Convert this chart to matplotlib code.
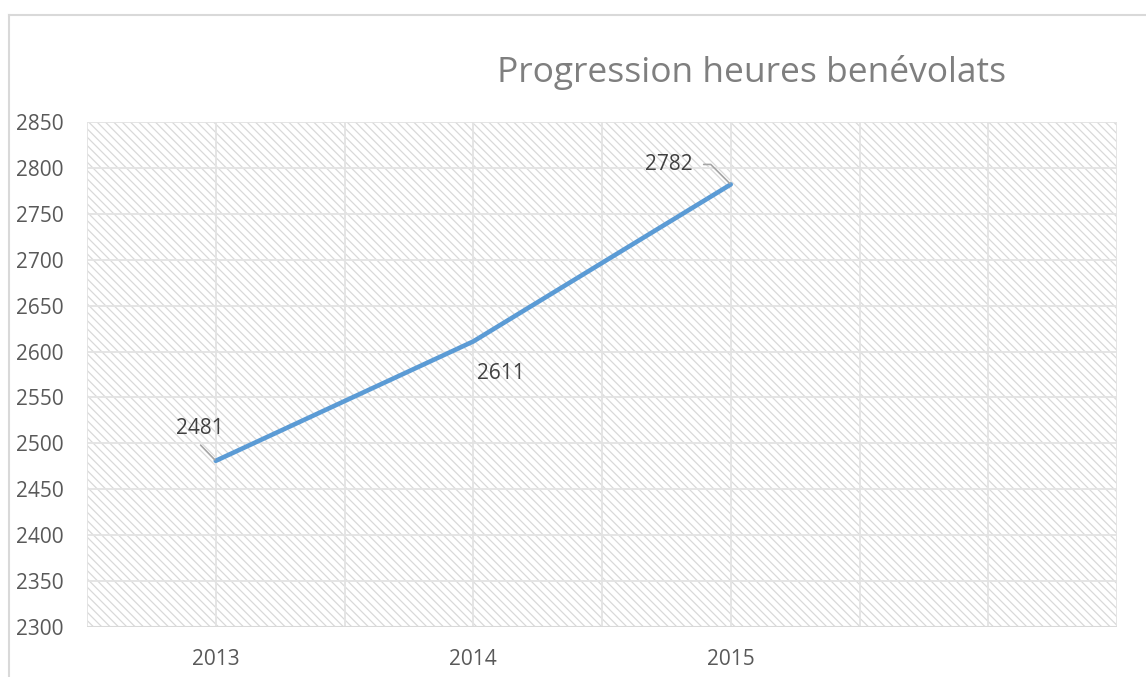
import numpy as np
import matplotlib.pyplot as plt
from matplotlib.patches import Rectangle
from matplotlib.lines import Line2D

years = ['2013', '2014', '2015']
hours = [2481, 2611, 2782]
y_ticks = list(range(2300, 2851, 50))

# label offsets in pixels relative to each point (dx, dy)
label_offsets = [(-16, 32), (28, -32), (-62, 20)]

plt.rcParams['font.family'] = ['Open Sans', 'DejaVu Sans']
plt.rcParams['hatch.linewidth'] = 0.9

fig = plt.figure(figsize=(11.46, 6.77), dpi=100)
ax = fig.add_axes([87 / 1146, 1 - 627 / 677, 1030 / 1146, 505 / 677])

x = np.arange(len(years))
ax.set_xlim(-0.5, 3.5)
ax.set_ylim(y_ticks[0], y_ticks[-1])

# hatched plot area
ax.add_patch(Rectangle((0, 0), 1, 1, transform=ax.transAxes, facecolor='white',
                       edgecolor='#d9d9d9', hatch='\\\\\\\\', linewidth=0, zorder=0))

ax.set_xticks(x)
ax.set_xticklabels(years)
ax.set_xticks(np.arange(-0.5, 3.51, 0.5), minor=True)
ax.set_yticks(y_ticks)
ax.tick_params(axis='both', which='both', length=0, labelsize=15, colors='#595959')
ax.tick_params(axis='x', pad=16)
ax.tick_params(axis='y', pad=17)
ax.grid(True, axis='y', color='#e3e3e3', linewidth=1.3, zorder=1)
ax.grid(True, axis='x', which='both', color='#e3e3e3', linewidth=1.3, zorder=1)
ax.set_axisbelow(True)
for s in ax.spines.values():
    s.set_visible(False)
ax.axhline(y_ticks[0], color='#d9d9d9', linewidth=1.5, zorder=2)

ax.plot(x, hours, color='#5b9bd5', linewidth=3.3, solid_capstyle='round', zorder=3)

# data labels
ax.annotate(str(hours[0]), (x[0], hours[0]), xytext=label_offsets[0],
            textcoords='offset pixels', ha='center', va='center', fontsize=15,
            color='#404040',
            arrowprops=dict(arrowstyle='-', color='#a5a5a5', lw=1.2,
                            relpos=(0.4, 0), shrinkA=3, shrinkB=1))
ax.annotate(str(hours[1]), (x[1], hours[1]), xytext=label_offsets[1],
            textcoords='offset pixels', ha='center', va='center', fontsize=15,
            color='#404040')
ax.annotate(str(hours[2]), (x[2], hours[2]), xytext=label_offsets[2],
            textcoords='offset pixels', ha='center', va='center', fontsize=15,
            color='#404040',
            arrowprops=dict(arrowstyle='-', color='#a5a5a5', lw=1.2,
                            relpos=(1, 0.5), shrinkA=6, shrinkB=1,
                            connectionstyle='angle,angleA=0,angleB=135,rad=0'))

fig.text(752 / 1146, 1 - 72 / 677, 'Progression heures benévolats', ha='center',
         va='center', fontsize=25.5, color='#7f7f7f')

# chart frame (cropped)
fig.add_artist(Line2D([8.5 / 1146, 8.5 / 1146], [0, 1 - 15 / 677], color='#d9d9d9',
                      linewidth=1.5, transform=fig.transFigure))
fig.add_artist(Line2D([8.5 / 1146, 1], [1 - 15 / 677, 1 - 15 / 677], color='#d9d9d9',
                      linewidth=1.5, transform=fig.transFigure))

fig.savefig('out.png', dpi=100)
